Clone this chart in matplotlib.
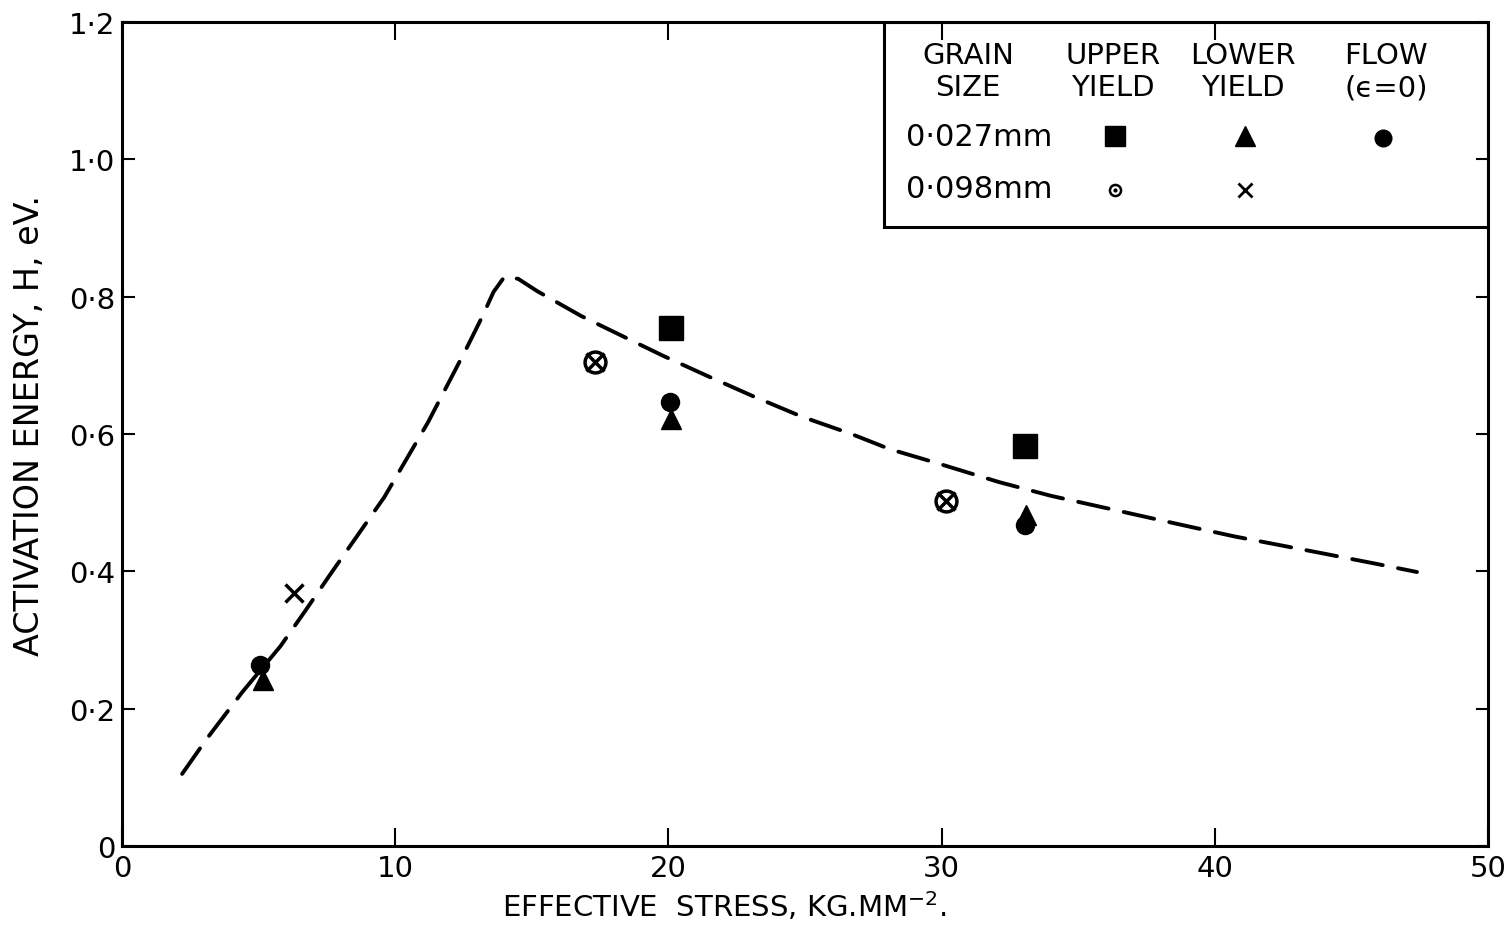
import matplotlib
matplotlib.use('Agg')
import matplotlib.pyplot as plt
from matplotlib.patches import Rectangle

# dashed trend curve, H (eV) against effective stress (kg/mm^2)
curve_x = [2.2, 3.1, 4.4, 5.8, 6.7, 7.7, 9.6, 11.2, 12.6, 13.2, 13.6, 14.0,
           14.5, 15.2, 16.8, 18.4, 19.8, 21.4, 23.1, 24.9, 26.7, 28.1, 29.8,
           32.1, 34.0, 35.7, 37.5, 39.2, 40.7, 42.4, 44.1, 45.9, 47.4]
curve_h = [0.105, 0.156, 0.224, 0.291, 0.342, 0.400, 0.508, 0.617, 0.724,
           0.772, 0.807, 0.829, 0.826, 0.808, 0.772, 0.741, 0.714, 0.685,
           0.655, 0.625, 0.600, 0.578, 0.558, 0.530, 0.510, 0.495, 0.479,
           0.464, 0.451, 0.438, 0.425, 0.411, 0.399]

# grain size 0.027 mm
upper_027_x = [20.1, 33.05]
upper_027_h = [0.755, 0.583]
lower_027_x = [5.15, 20.1, 33.1]
lower_027_h = [0.242, 0.622, 0.482]
flow_027_x = [5.05, 20.05, 33.05]
flow_027_h = [0.263, 0.647, 0.467]

# grain size 0.098 mm
upper_098_x = [17.3, 30.15]
upper_098_h = [0.705, 0.503]
lower_098_x = [6.3, 17.3, 30.15]
lower_098_h = [0.368, 0.705, 0.503]

xticks = [0, 10, 20, 30, 40, 50]
xtick_labels = ['0', '10', '20', '30', '40', '50']
yticks = [0, 0.2, 0.4, 0.6, 0.8, 1.0, 1.2]
ytick_labels = ['0', '0·2', '0·4', '0·6', '0·8', '1·0', '1·2']

plt.rcParams['font.family'] = ['DejaVu Sans']

fig = plt.figure(figsize=(15.11, 9.28), dpi=100)
ax = fig.add_axes([122/1511, 1-847/928, 1366/1511, 824/928])

ax.plot(curve_x, curve_h, color='black', lw=2.8, dashes=(8, 4),
        solid_capstyle='round', dash_capstyle='round')

ax.plot(upper_027_x, upper_027_h, 's', color='black', ms=17, ls='none')
ax.plot(lower_027_x, lower_027_h, '^', color='black', ms=15, ls='none')
ax.plot(flow_027_x, flow_027_h, 'o', color='black', ms=13, ls='none')
ax.plot(upper_098_x, upper_098_h, 'o', mfc='none', mec='black', mew=2.5,
        ms=15, ls='none')
ax.plot(lower_098_x, lower_098_h, 'x', color='black', mew=2.5, ms=13,
        ls='none')

ax.set_xlim(0, 50)
ax.set_ylim(0, 1.2)
ax.set_xticks(xticks)
ax.set_xticklabels(xtick_labels)
ax.set_yticks(yticks)
ax.set_yticklabels(ytick_labels)
ax.tick_params(direction='in', top=True, right=True, width=1.5,
               labelsize=21, colors='black')
ax.tick_params(axis='x', length=13, pad=6)
ax.tick_params(axis='y', length=9, pad=5)
for s in ax.spines.values():
    s.set_linewidth(2.2)

ax.set_xlabel('EFFECTIVE  STRESS, KG.MM$^{-2}$.', fontsize=21)
ax.xaxis.set_label_coords(0.441, -0.052)
ax.set_ylabel('ACTIVATION ENERGY, H, eV.', fontsize=24)
ax.yaxis.set_label_coords(-0.056, 0.512)

# key box in the upper right corner
def px(x, y):
    return (x - 122) / 1366, (847 - y) / 824

x0, y0 = px(884, 228)
ax.add_patch(Rectangle((x0, y0), 1 - x0, 1 - y0, transform=ax.transAxes,
                       fill=False, lw=2.2, ec='black', zorder=5))

heads = [(968, 'GRAIN\nSIZE'), (1113, 'UPPER\nYIELD'),
         (1243, 'LOWER\nYIELD'), (1386, 'FLOW\n(ϵ=0)')]
for hx, txt in heads:
    ax.text(*px(hx, 72), txt, transform=ax.transAxes, ha='center',
            va='center', fontsize=21, linespacing=1.2)

ax.text(*px(906, 137), '0·027mm', transform=ax.transAxes, ha='left',
        va='center', fontsize=22)
ax.text(*px(906, 190), '0·098mm', transform=ax.transAxes, ha='left',
        va='center', fontsize=22)

ax.plot(*px(1115, 137), 's', color='black', ms=15, transform=ax.transAxes)
ax.plot(*px(1245, 137), '^', color='black', ms=14, transform=ax.transAxes)
ax.plot(*px(1383, 139), 'o', color='black', ms=12, transform=ax.transAxes)
ax.plot(*px(1115, 191), 'o', mfc='none', mec='black', mew=1.8, ms=8,
        transform=ax.transAxes)
ax.plot(*px(1115, 191), 'o', color='black', ms=2, transform=ax.transAxes)
ax.plot(*px(1245, 191), 'x', color='black', mew=2, ms=10,
        transform=ax.transAxes)

fig.savefig('out.png', dpi=100)
